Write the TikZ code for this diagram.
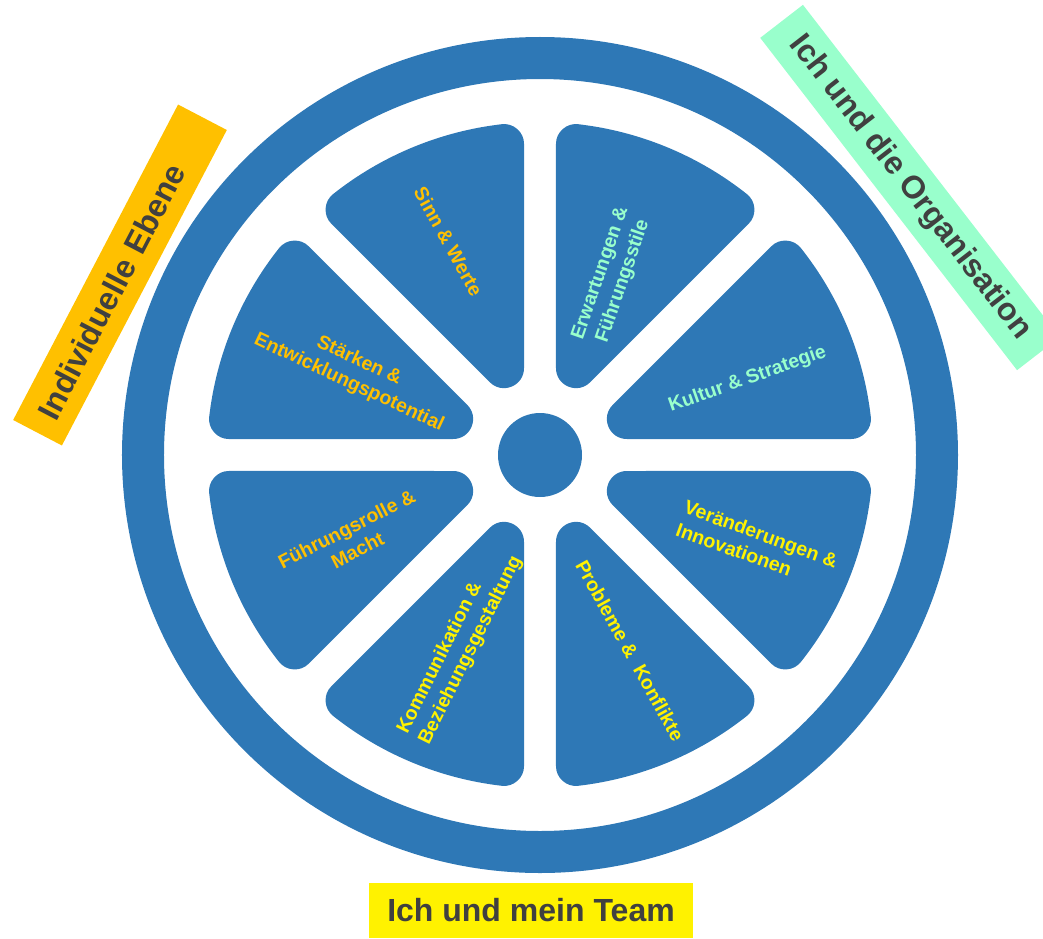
\documentclass[tikz,border=0pt]{standalone}
\usepackage{fontspec}
\setmainfont{Liberation Sans}
\definecolor{wheelblue}{RGB}{46,120,182}
\definecolor{goldtone}{RGB}{255,192,0}
\definecolor{minttone}{RGB}{153,255,204}
\definecolor{darkgrey}{RGB}{64,64,64}

\begin{document}
\begin{tikzpicture}[x=1pt,y=1pt,
    sectortext/.style={font=\bfseries\fontsize{19.5}{24}\selectfont, align=center, inner sep=0pt},
    levelbox/.style={font=\bfseries\fontsize{32}{40}\selectfont, text=darkgrey, inner sep=0pt, minimum height=55pt}]
    \useasboundingbox (-540,-483) rectangle (503,455);
    \clip (-540,-483) rectangle (503,455);
    % Outer ring and hub
    \draw[wheelblue, line width=42pt] (0,0) circle[radius=397pt];
    \node[circle, fill=wheelblue, minimum size=84pt, inner sep=0pt] (hub) at (0,0) {};
    % Eight sectors with rounded corners
    \foreach \a in {0,45,...,315} {
        \filldraw[wheelblue, line width=40pt, line join=round]
            (\a+22.5:94.07) -- (\a+6.6:313) arc[start angle=\a+6.6, end angle=\a+38.4, radius=313pt] -- cycle;
    }
    % Sector labels
    \node[sectortext, text=goldtone, rotate=-61] (sinn) at (-91.5,213.5) {Sinn \& Werte};
    \node[sectortext, text=minttone, rotate=71] (erwartung) at (72,177.5) {Erwartungen \&\\Führungsstile};
    \node[sectortext, text=minttone, rotate=19.5] (kultur) at (207.5,75.5) {Kultur \& Strategie};
    \node[sectortext, text=goldtone, rotate=-25] (staerken) at (-186,83) {Stärken \&\\Entwicklungspotential};
    \node[sectortext, text=goldtone, rotate=27] (rolle) at (-188,-84.5) {Führungsrolle \&\\Macht};
    \node[sectortext, text=yellow, rotate=-20, align=left] (wandel) at (217,-90) {Veränderungen \&\\Innovationen};
    \node[sectortext, text=yellow, rotate=63.5, align=left] (kommunikation) at (-80,-190) {Kommunikation \&\\Beziehungsgestaltung};
    \node[sectortext, text=yellow, rotate=-61] (probleme) at (90,-195.5) {Probleme \&\ \ Konflikte};
    % Level labels
    \node[levelbox, fill=goldtone, minimum width=356pt, text width=320pt, align=left, rotate=62.4] (individuell) at (-420,180) {Individuelle Ebene};
    \node[levelbox, fill=minttone, minimum width=420pt, minimum height=54pt, rotate=-52.3] (organisation) at (370,267.5) {Ich und die Organisation};
    \node[levelbox, fill=yellow, minimum width=324pt] (team) at (-9,-455.5) {Ich und mein Team};
\end{tikzpicture}
\end{document}
